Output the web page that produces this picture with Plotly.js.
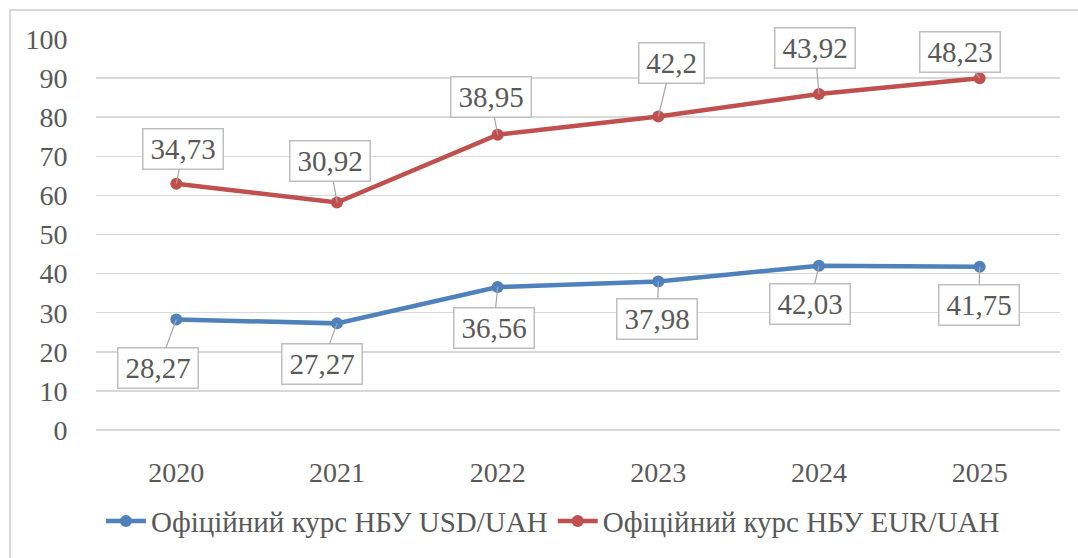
<!DOCTYPE html>
<html>
<head>
<meta charset="utf-8">
<script src="https://cdn.plot.ly/plotly-3.0.1.min.js"></script>
<style>
  html, body { margin: 0; padding: 0; background: #fff; font-family: 'Liberation Serif', serif; }
  #wrap { position: relative; width: 1078px; height: 558px; overflow: hidden; }
  #frame { position: absolute; left: 9px; top: 9px; width: 1200px; height: 700px;
           border-left: 2px solid #d9d9d9; border-top: 2px solid #d9d9d9; pointer-events: none; }
  #chart { position: absolute; left: 0; top: 0; width: 1078px; height: 558px; }
  #chart svg text { font-family: 'Liberation Serif', 'Times New Roman', serif !important; }
</style>
</head>
<body>
<div id="wrap">
  <div id="chart"></div>
  <div id="frame"></div>
</div>
<script>
// ---- data ----
const years = ['2020', '2021', '2022', '2023', '2024', '2025'];
const usdRates = [28.27, 27.27, 36.56, 37.98, 42.03, 41.75];
const eurRates = [34.73, 30.92, 38.95, 42.2, 43.92, 48.23];
const seriesNames = ['Офіційний курс НБУ USD/UAH', 'Офіційний курс НБУ EUR/UAH'];
const yTicks = [0, 10, 20, 30, 40, 50, 60, 70, 80, 90, 100];

// ---- label placement (pixel offsets of the label boxes from their points) ----
const usdLabelOffsets = [[-18, 49], [-15, 41], [-4, 41], [-1, 37], [-9, 38], [-1, 38]];
const eurLabelOffsets = [[7, -35], [-7, -41], [-7, -38], [13, -54], [-4, -46], [-20, -26]];

const blue = '#4F81BD';
const red = '#C0504D';
const textColor = '#595959';
const serifFont = 'Liberation Serif';

const fmt = v => String(v).replace('.', ',');

const traces = [
  {
    x: years, y: usdRates, name: seriesNames[0], type: 'scatter', mode: 'lines+markers',
    stackgroup: 'one', fill: 'none',
    line: { color: blue, width: 4.5 }, marker: { color: blue, size: 12 }
  },
  {
    x: years, y: eurRates, name: seriesNames[1], type: 'scatter', mode: 'lines+markers',
    stackgroup: 'one', fill: 'none',
    line: { color: red, width: 4.5 }, marker: { color: red, size: 12 }
  }
];

const annotations = [];
const labelStyle = {
  showarrow: true, arrowhead: 0, arrowwidth: 1.2, arrowcolor: '#a6a6a6',
  bgcolor: '#ffffff', bordercolor: '#bfbfbf', borderwidth: 1.5, borderpad: 4,
  height: 31,
  font: { family: serifFont, size: 29, color: textColor },
  xref: 'x', yref: 'y'
};
const boxWidth = s => (s.length >= 5 ? 71 : 56);
years.forEach((yr, i) => {
  const ut = fmt(usdRates[i]);
  const et = fmt(eurRates[i]);
  annotations.push(Object.assign({}, labelStyle, {
    x: i, y: usdRates[i], text: ut, width: boxWidth(ut),
    ax: usdLabelOffsets[i][0], ay: usdLabelOffsets[i][1]
  }));
  annotations.push(Object.assign({}, labelStyle, {
    x: i, y: usdRates[i] + eurRates[i], text: et, width: boxWidth(et),
    ax: eurLabelOffsets[i][0], ay: eurLabelOffsets[i][1]
  }));
});

const layout = {
  width: 1078, height: 558,
  margin: { l: 96, r: 18, t: 39, b: 125 },
  paper_bgcolor: 'rgba(0,0,0,0)', plot_bgcolor: 'rgba(0,0,0,0)',
  font: { family: serifFont, size: 28, color: textColor },
  showlegend: true,
  legend: {
    orientation: 'h', x: 0.474, xanchor: 'center', y: -0.233, yanchor: 'middle',
    font: { family: serifFont, size: 29, color: textColor },
    itemwidth: 40
  },
  xaxis: {
    type: 'category', range: [-0.5, 5.5], showgrid: false, zeroline: false, showline: false,
    ticks: 'outside', ticklen: 17, tickcolor: 'rgba(0,0,0,0)',
    tickfont: { family: serifFont, size: 28, color: textColor }
  },
  yaxis: {
    range: [0, 100], tickvals: yTicks, showgrid: true, gridcolor: '#d9d9d9', gridwidth: 1.5,
    zeroline: true, zerolinecolor: '#d9d9d9', zerolinewidth: 1.5, showline: false,
    ticks: 'outside', ticklen: 22, tickcolor: 'rgba(0,0,0,0)',
    tickfont: { family: serifFont, size: 28, color: textColor }
  },
  annotations: annotations
};

Plotly.newPlot('chart', traces, layout, { displayModeBar: false, staticPlot: true });
</script>
</body>
</html>
